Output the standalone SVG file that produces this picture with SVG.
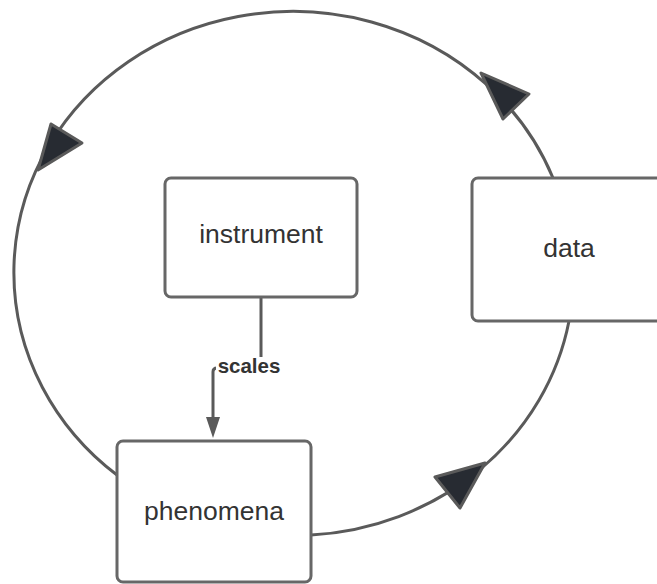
<svg xmlns="http://www.w3.org/2000/svg" width="657" height="584" viewBox="0 0 657 584">
  <defs>
    <style>
      .box { fill: #ffffff; stroke: #676767; stroke-width: 3; }
      .label { font-family: "Liberation Sans", Arial, sans-serif; font-size: 26.5px; fill: #333333; text-anchor: middle; }
      .edge { fill: none; stroke: #5a5a5a; stroke-width: 3; }
      .head { fill: #272b32; stroke: #5a5a5a; stroke-width: 3; stroke-linejoin: round; }
      .tag { font-family: "Liberation Sans", Arial, sans-serif; font-size: 20.5px; font-weight: bold; fill: #333333; text-anchor: middle; }
    </style>
  </defs>

  <g id="connectors">
    <!-- cycle: data back round the top to phenomena -->
    <path class="edge" d="M553,178 A279,261 0 1 0 117,475"/>
    <!-- cycle: phenomena round the bottom to data -->
    <path class="edge" d="M311,535 A279,261 0 0 0 569,321"/>
    <polygon class="head" points="481,73 529,94 503,119"/>
    <polygon class="head" points="51,124 82,143 38,170"/>
    <polygon class="head" points="435,477 485,463 460,508"/>
    <!-- instrument scales phenomena -->
    <path class="edge" d="M261,297 V368 H217 Q213,368 213,372 V420"/>
    <path d="M206,417 L220,417 L213,438 Z" fill="#5a5a5a"/>
    <rect x="216" y="357" width="66" height="23" fill="#ffffff"/>
    <text class="tag" x="249" y="373">scales</text>
  </g>

  <g id="instrument">
    <rect class="box" x="165" y="178" width="192" height="119" rx="6"/>
    <text class="label" x="261" y="243">instrument</text>
  </g>

  <g id="data">
    <rect class="box" x="472" y="178" width="240" height="143" rx="6"/>
    <text class="label" x="569" y="257">data</text>
  </g>

  <g id="phenomena">
    <rect class="box" x="117" y="441" width="194" height="141" rx="6"/>
    <text class="label" x="214" y="520">phenomena</text>
  </g>
</svg>
